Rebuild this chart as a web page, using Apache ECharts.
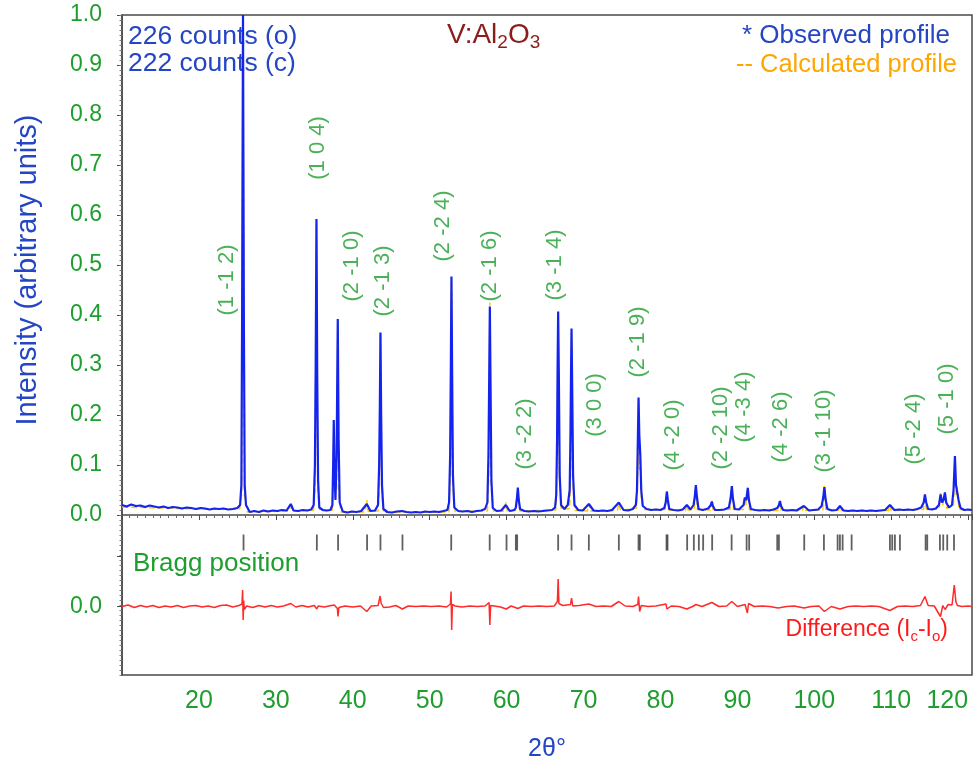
<!DOCTYPE html>
<html><head><meta charset="utf-8">
<script src="https://cdn.jsdelivr.net/npm/echarts@6.0.0/dist/echarts.min.js"></script>
<style>html,body{margin:0;padding:0;background:#fff}#c{width:979px;height:771px}</style>
</head><body><div id="c"></div>
<script>
// ---- data: [2theta, intensity] ----
const observed = [
[10.0,0.020],[10.6,0.017],[11.2,0.021],[11.8,0.018],[12.4,0.019],[13.0,0.016],[13.6,0.019],[14.2,0.017],[14.8,0.015],[15.4,0.017],[16.0,0.014],[16.6,0.016],[17.2,0.015],[17.8,0.013],[18.4,0.015],[19.0,0.014],[19.6,0.012],[20.2,0.014],[20.8,0.013],[21.4,0.011],[22.0,0.013],[22.6,0.012],[23.2,0.013],[23.8,0.011],[24.4,0.012],[25.0,0.014],
[25.35,0.02],[25.52,0.06],[25.62,0.42],[25.73,1.0],[25.84,0.40],[25.95,0.06],[26.12,0.02],
[26.6,0.006],[27.2,0.008],[27.8,0.006],[28.4,0.009],[29.0,0.007],[29.6,0.009],[30.2,0.008],[30.8,0.010],[31.4,0.009],[31.94,0.022],[32.3,0.009],[32.9,0.008],[33.5,0.010],[34.1,0.009],[34.6,0.011],
[34.92,0.02],[35.08,0.10],[35.18,0.30],[35.28,0.592],[35.38,0.28],[35.49,0.07],[35.65,0.015],
[36.1,0.010],[36.6,0.009],[37.1,0.010],
[37.35,0.02],[37.45,0.10],[37.53,0.19],[37.62,0.09],[37.75,0.03],[37.9,0.12],[38.05,0.392],[38.16,0.15],[38.3,0.025],
[38.7,0.007],[39.3,0.005],[39.9,0.007],[40.5,0.006],[41.1,0.008],[41.82,0.022],[42.3,0.008],[42.9,0.009],
[43.28,0.02],[43.43,0.10],[43.52,0.22],[43.60,0.365],[43.69,0.20],[43.8,0.06],[43.98,0.012],
[44.5,0.006],[45.1,0.005],[45.7,0.007],[46.4,0.008],[47.0,0.006],[47.6,0.005],[48.2,0.006],[48.8,0.005],[49.4,0.007],[50.0,0.006],[50.6,0.007],[51.2,0.006],[51.8,0.008],[52.3,0.010],
[52.52,0.025],[52.66,0.12],[52.75,0.30],[52.83,0.477],[52.92,0.28],[53.02,0.08],[53.2,0.015],
[53.7,0.008],[54.3,0.007],[54.9,0.008],[55.5,0.006],[56.1,0.008],[56.7,0.009],[57.2,0.012],
[57.5,0.025],[57.64,0.12],[57.74,0.28],[57.82,0.417],[57.91,0.26],[58.02,0.07],[58.2,0.014],
[58.7,0.008],[59.3,0.009],[59.9,0.02],[60.4,0.008],[61.0,0.010],
[61.2,0.015],[61.35,0.035],[61.46,0.055],[61.58,0.03],[61.75,0.012],
[62.3,0.008],[62.9,0.007],[63.5,0.008],[64.1,0.007],[64.7,0.008],[65.3,0.009],[65.9,0.010],[66.3,0.015],
[66.45,0.04],[66.56,0.15],[66.63,0.30],[66.70,0.407],[66.79,0.28],[66.9,0.08],[67.08,0.02],
[67.5,0.012],[67.95,0.02],
[68.2,0.05],[68.3,0.16],[68.37,0.28],[68.44,0.373],[68.53,0.25],[68.64,0.08],[68.82,0.02],
[69.3,0.010],[69.9,0.009],[70.69,0.022],[71.3,0.009],[71.9,0.008],[72.5,0.009],[73.1,0.008],[73.7,0.010],[74.59,0.025],[75.2,0.010],[75.8,0.009],[76.4,0.012],[76.8,0.02],
[76.95,0.05],[77.06,0.15],[77.15,0.235],[77.25,0.16],[77.38,0.12],[77.5,0.05],[77.7,0.018],
[78.2,0.012],[78.8,0.010],[79.4,0.011],[80.0,0.010],[80.5,0.014],
[80.68,0.025],[80.83,0.047],[80.96,0.03],[81.15,0.012],
[81.7,0.010],[82.3,0.009],[82.9,0.011],[83.43,0.02],[83.9,0.011],[84.3,0.02],
[84.45,0.035],[84.6,0.060],[84.75,0.035],[84.95,0.012],
[85.5,0.010],[86.2,0.013],
[86.55,0.02],[86.68,0.027],[86.82,0.018],[87.1,0.010],
[87.7,0.010],[88.3,0.011],[88.9,0.015],
[89.13,0.035],[89.28,0.058],[89.42,0.033],[89.65,0.012],
[90.2,0.011],[90.8,0.02],[90.97,0.035],[91.15,0.03],
[91.36,0.054],[91.5,0.03],[91.75,0.012],
[92.3,0.010],[92.9,0.009],[93.5,0.010],[94.1,0.009],[94.7,0.011],[95.2,0.014],
[95.4,0.02],[95.53,0.028],[95.68,0.018],[95.95,0.010],
[96.5,0.009],[97.1,0.010],[97.7,0.009],[98.65,0.018],[99.3,0.009],[99.9,0.010],[100.5,0.011],[100.95,0.018],
[101.16,0.035],[101.31,0.056],[101.46,0.032],[101.7,0.012],
[102.3,0.009],[102.9,0.010],[103.33,0.018],[103.8,0.009],[104.4,0.008],[105.0,0.009],[105.6,0.008],[106.2,0.009],[106.8,0.008],[107.4,0.009],[108.0,0.008],[108.6,0.009],[109.2,0.010],[109.83,0.02],[110.4,0.010],[111.0,0.011],[111.6,0.010],[112.2,0.011],[112.8,0.010],[113.4,0.012],[113.9,0.015],
[114.22,0.025],[114.38,0.041],[114.55,0.025],[114.8,0.012],
[115.3,0.011],[115.8,0.013],[116.2,0.02],
[116.42,0.041],[116.6,0.025],[116.8,0.03],[116.98,0.045],[117.15,0.025],[117.5,0.015],[117.9,0.02],[118.1,0.05],
[118.28,0.118],[118.42,0.06],[118.6,0.058],[118.75,0.03],[119.0,0.014],[119.5,0.010],[120.0,0.011],[120.5,0.010]
];
const calculated = [
[10.0,0.016],[15.0,0.014],[20.0,0.012],[25.3,0.012],
[25.55,0.04],[25.73,0.99],[25.91,0.04],
[26.3,0.006],[31.7,0.008],[31.94,0.018],[32.2,0.008],[34.9,0.009],
[35.12,0.06],[35.28,0.58],[35.44,0.05],[35.7,0.009],[37.3,0.009],
[37.45,0.05],[37.53,0.17],[37.62,0.05],[37.9,0.05],[38.05,0.38],[38.2,0.04],[38.45,0.006],
[41.6,0.006],[41.82,0.03],[42.0,0.007],[43.3,0.008],
[43.45,0.06],[43.60,0.36],[43.75,0.05],[44.0,0.005],[52.5,0.006],
[52.67,0.07],[52.83,0.47],[52.99,0.06],[53.3,0.007],[57.5,0.008],
[57.66,0.07],[57.82,0.425],[57.98,0.06],[58.3,0.008],[59.7,0.008],[59.9,0.025],[60.1,0.008],[61.2,0.009],
[61.46,0.052],[61.7,0.008],[66.4,0.010],
[66.56,0.09],[66.70,0.40],[66.85,0.08],[67.1,0.011],[68.2,0.013],
[68.31,0.08],[68.44,0.365],[68.58,0.07],[68.85,0.009],[70.5,0.008],[70.69,0.022],[70.9,0.008],[74.4,0.009],[74.59,0.024],[74.8,0.009],[76.9,0.014],
[77.05,0.08],[77.15,0.23],[77.27,0.09],[77.38,0.11],[77.52,0.03],[77.8,0.011],[80.6,0.011],
[80.83,0.045],[81.05,0.010],[83.25,0.009],[83.43,0.02],[83.6,0.010],[84.4,0.011],
[84.6,0.058],[84.8,0.011],[86.5,0.010],[86.68,0.026],[86.85,0.010],[89.05,0.011],
[89.28,0.057],[89.5,0.011],[90.8,0.011],[90.97,0.034],[91.15,0.02],[91.36,0.058],[91.58,0.010],[95.35,0.009],[95.53,0.027],[95.7,0.009],[98.45,0.009],[98.65,0.018],[98.85,0.009],[101.1,0.010],
[101.31,0.061],[101.5,0.010],[103.15,0.009],[103.33,0.018],[103.5,0.009],[109.65,0.009],[109.83,0.02],[110.0,0.009],[114.2,0.011],
[114.38,0.04],[114.57,0.011],[116.25,0.013],[116.42,0.045],[116.7,0.02],[116.98,0.044],[117.2,0.013],[118.1,0.02],
[118.28,0.115],[118.44,0.04],[118.6,0.056],[118.8,0.011],[120.5,0.009]
];
const difference = [
[10.0,0.000],[10.8,0.003],[11.6,-0.002],[12.4,0.002],[13.2,-0.001],[14.0,0.002],[14.8,-0.002],[15.6,0.001],[16.4,-0.001],[17.2,0.002],[18.0,-0.002],[18.8,0.001],[19.6,0.002],[20.4,-0.001],[21.2,0.001],[22.0,-0.002],[22.8,0.002],[23.6,0.003],[24.4,-0.001],[25.2,0.002],
[25.6,0.005],[25.68,0.033],[25.75,-0.027],[25.82,0.012],[25.9,-0.006],[26.2,0.001],
[27.0,-0.002],[27.8,0.002],[28.6,-0.001],[29.4,0.002],[30.2,-0.001],[31.0,0.001],[31.94,0.006],[32.6,-0.001],[33.4,0.002],[34.2,-0.001],[35.0,0.002],[35.2,0.006],[35.32,-0.005],[35.5,0.001],[36.3,-0.001],[37.2,0.002],[37.6,0.003],[38.0,-0.004],[38.08,-0.02],[38.2,-0.002],[39.0,0.001],[40.0,-0.001],[41.0,0.001],[41.82,-0.01],[42.4,0.001],[43.3,0.002],[43.55,0.021],[43.7,0.006],[44.0,-0.002],[44.8,-0.001],[45.6,0.002],[46.46,-0.005],[47.2,0.001],[48.2,0.000],[49.2,0.001],[50.2,0.000],[51.2,0.001],[52.2,-0.001],[52.7,0.005],[52.78,0.03],[52.86,-0.047],[52.95,0.004],[53.3,0.001],[54.2,-0.001],[55.2,0.001],[56.2,0.000],[57.2,0.001],[57.72,0.008],[57.82,-0.037],[57.92,0.002],[58.4,0.001],[59.2,-0.001],[59.95,-0.005],[60.6,0.001],[61.46,-0.004],[62.2,0.001],[63.2,0.000],[64.2,0.001],[65.2,0.000],[66.2,0.001],[66.6,0.01],[66.7,0.055],[66.8,0.006],[67.3,0.002],[68.3,0.004],[68.44,0.017],[68.6,0.001],[69.4,0.002],[70.69,0.005],[71.6,0.000],[72.6,0.001],[73.6,0.000],[74.59,0.01],[75.4,0.001],[76.4,0.000],[77.05,0.004],[77.15,0.02],[77.3,-0.01],[77.5,0.002],[78.4,0.000],[79.4,0.001],[80.7,0.005],[80.85,-0.005],[81.4,0.001],[82.4,0.000],[83.43,-0.005],[84.3,0.001],[84.6,0.004],[85.4,0.000],[86.68,0.008],[87.6,0.000],[88.6,0.001],[89.28,0.01],[90.0,0.000],[91.0,0.004],[91.3,-0.013],[91.45,0.006],[92.2,0.000],[93.2,0.001],[94.2,0.000],[95.3,-0.003],[96.4,0.000],[97.4,0.001],[98.65,-0.003],[99.6,0.000],[100.6,0.001],[101.31,-0.01],[102.2,0.000],[103.33,-0.005],[104.4,0.000],[105.4,0.001],[106.4,0.000],[107.4,0.001],[108.4,0.000],[109.83,-0.008],[110.8,0.000],[111.8,0.001],[112.8,0.000],[113.8,0.002],[114.38,0.02],[114.8,0.002],[115.6,0.001],[116.4,-0.02],[116.7,0.002],[117.0,-0.006],[117.4,0.004],[117.9,0.003],[118.2,0.043],[118.4,0.01],[118.6,0.002],[119.2,0.000],[120.0,0.001],[120.5,0.000]
];
const braggPositions = [25.8,35.33,38.09,41.86,43.6,46.46,52.8,57.8,59.99,61.2,61.37,66.7,68.44,70.69,74.59,77.15,77.32,80.79,80.92,83.47,84.34,84.99,85.55,86.72,89.25,91.2,91.53,95.18,95.4,98.69,101.25,103.03,103.33,103.68,104.85,109.83,110.13,110.48,111.13,114.47,114.68,116.33,116.76,117.28,118.16];
const hklNames = ['(1 -1 2)','(1 0 4)','(2 -1 0)','(2 -1 3)','(2 -2 4)','(2 -1 6)','(3 -2 2)','(3 -1 4)','(3 0 0)','(2 -1 9)','(4 -2 0)','(2 -2 10)','(4 -3 4)','(4 -2 6)','(3 -1 10)','(5 -2 4)','(5 -1 0)'];
const hklTwoTheta = [23.65,35.5,39.9,43.9,51.7,57.85,62.4,66.3,71.5,77.1,81.65,87.8,90.8,95.7,101.2,112.9,117.3];
const hklLabelLevel = [0.47,0.734,0.498,0.468,0.578,0.498,0.162,0.5,0.22,0.346,0.16,0.174,0.216,0.176,0.168,0.172,0.232];
const xTickValues = [20,30,40,50,60,70,80,90,100,110,120];
const xTickLabels = ['20','30','40','50','60','70','80','90','100','110','120'];
const yTickValues = [0,0.1,0.2,0.3,0.4,0.5,0.6,0.7,0.8,0.9,1.0];
const yTickLabels = ['0.0','0.1','0.2','0.3','0.4','0.5','0.6','0.7','0.8','0.9','1.0'];
const diffZeroLabel = '0.0';

// ---- layout constants ----
const DIFF_OFFSET = -0.183;
const BRAGG_LEVEL = -0.055;
const GREEN = '#1e9e2e', BLUE = '#2445c4';
const FONT = '"Liberation Sans", Arial';

const chart = echarts.init(document.getElementById('c'));
const diffData = difference.map(d => [d[0], d[1] + DIFF_OFFSET]);
const braggData = braggPositions.map(p => [p, BRAGG_LEVEL]);
const hklData = hklNames.map((n, i) => ({ name: n, value: [hklTwoTheta[i], hklLabelLevel[i]] }));
const yLabelValues = yTickValues.concat([DIFF_OFFSET]);

chart.setOption({
  animation: false,
  backgroundColor: '#fff',
  grid: { left: 122, right: 7, top: 15, bottom: 96, outerBoundsMode: 'none', containLabel: false,
          show: true, borderColor: '#4a4a4a', borderWidth: 1.5, backgroundColor: '#fff' },
  xAxis: [{
    type: 'value', min: 10, max: 120.5, interval: 10,
    name: '2θ°', nameLocation: 'middle', nameGap: 62,
    nameTextStyle: { color: BLUE, fontSize: 25, fontFamily: 'Liberation Sans, Arial' },
    axisLine: { lineStyle: { color: '#4a4a4a', width: 1.5 } },
    axisTick: { show: true, length: 5, inside: false, lineStyle: { color: '#4a4a4a' } },
    minorTick: { show: true, splitNumber: 10, length: 3, lineStyle: { color: '#666' } },
    splitLine: { show: false }, minorSplitLine: { show: false },
    axisLabel: {
      customValues: xTickValues, margin: 14, color: GREEN, fontSize: 25,
      fontFamily: 'Liberation Sans, Arial', alignMaxLabel: 'right',
      formatter: v => { const i = xTickValues.indexOf(Math.round(v)); return i >= 0 ? xTickLabels[i] : ''; }
    }
  }],
  yAxis: [{
    type: 'value', min: -0.32, max: 1.0,
    axisLine: { show: true, lineStyle: { color: '#4a4a4a', width: 1.5 } },
    axisTick: { show: true, length: 5, customValues: yTickValues.concat([-0.083, DIFF_OFFSET]), lineStyle: { color: '#4a4a4a' } },
    splitLine: { show: false },
    axisLabel: {
      customValues: yLabelValues, margin: 20, color: GREEN, fontSize: 23,
      fontFamily: 'Liberation Sans, Arial',
      formatter: v => { const i = yTickValues.findIndex(t => Math.abs(t - v) < 1e-6); return i >= 0 ? yTickLabels[i] : diffZeroLabel; }
    }
  }, {
    type: 'value', min: -0.32, max: 1.0, interval: 0.01, position: 'left',
    axisLine: { show: false }, splitLine: { show: false },
    axisTick: { show: true, length: 2.5, lineStyle: { color: '#777' } },
    axisLabel: { show: false }
  }],
  series: [
    { name: 'Calculated', type: 'line', data: calculated, showSymbol: false, z: 2,
      lineStyle: { color: '#ffc800', width: 1.5, type: 'dashed' } },
    { name: 'Observed', type: 'line', data: observed, showSymbol: false, z: 3,
      lineStyle: { color: '#1424ee', width: 2.2 } },
    { name: 'Difference', type: 'line', data: diffData, showSymbol: false, z: 3,
      lineStyle: { color: '#ff2a2a', width: 1.5 } },
    { name: 'Bragg', type: 'scatter', data: braggData, symbol: 'rect', symbolSize: [1.8, 16], z: 3,
      itemStyle: { color: '#3a3a3a' } },
    { name: 'hkl', type: 'scatter', data: hklData, symbolSize: 1, z: 4,
      itemStyle: { color: 'rgba(0,0,0,0)' },
      label: { show: true, position: 'inside', rotate: 90, formatter: '{b}', color: GREEN, fontSize: 22, fontFamily: 'Liberation Sans, Arial' } }
  ],
  graphic: [
    { type: 'text', left: 128, top: 23, style: { text: '226 counts (o)', fill: BLUE, font: '26.5px ' + FONT } },
    { type: 'text', left: 128, top: 50, style: { text: '222 counts (c)', fill: BLUE, font: '26.5px ' + FONT } },
    { type: 'text', left: 447, top: 21, style: {
        text: '{n|V:Al}{s|2}{n|O}{s|3}',
        rich: { n: { fill: '#8b1c1c', fontSize: 28, fontFamily: 'Liberation Sans', lineHeight: 34, verticalAlign: 'middle' },
                s: { fill: '#8b1c1c', fontSize: 19, fontFamily: 'Liberation Sans', lineHeight: 19, verticalAlign: 'bottom' } } } },
    { type: 'text', right: 29, top: 23, style: { text: '* Observed profile', fill: BLUE, font: '26px ' + FONT } },
    { type: 'text', right: 22, top: 52, style: { text: '-- Calculated profile', fill: '#ffa500', font: '25.5px ' + FONT } },
    { type: 'text', left: 133, top: 551, style: { text: 'Bragg position', fill: GREEN, font: '26px ' + FONT } },
    { type: 'text', right: 31, top: 618, style: {
        text: '{n|Difference (I}{s|c}{n|-I}{s|o}{n|)}',
        rich: { n: { fill: '#ff1a1a', fontSize: 23, fontFamily: 'Liberation Sans', lineHeight: 30, verticalAlign: 'middle' },
                s: { fill: '#ff1a1a', fontSize: 15, fontFamily: 'Liberation Sans', lineHeight: 15, verticalAlign: 'bottom' } } } },
    { type: 'text', x: 28, y: 270, rotation: Math.PI / 2, style: { text: 'Intensity (arbitrary units)', fill: BLUE, font: '29px ' + FONT, align: 'center', verticalAlign: 'middle' } }
  ]
});
</script>
</body></html>
